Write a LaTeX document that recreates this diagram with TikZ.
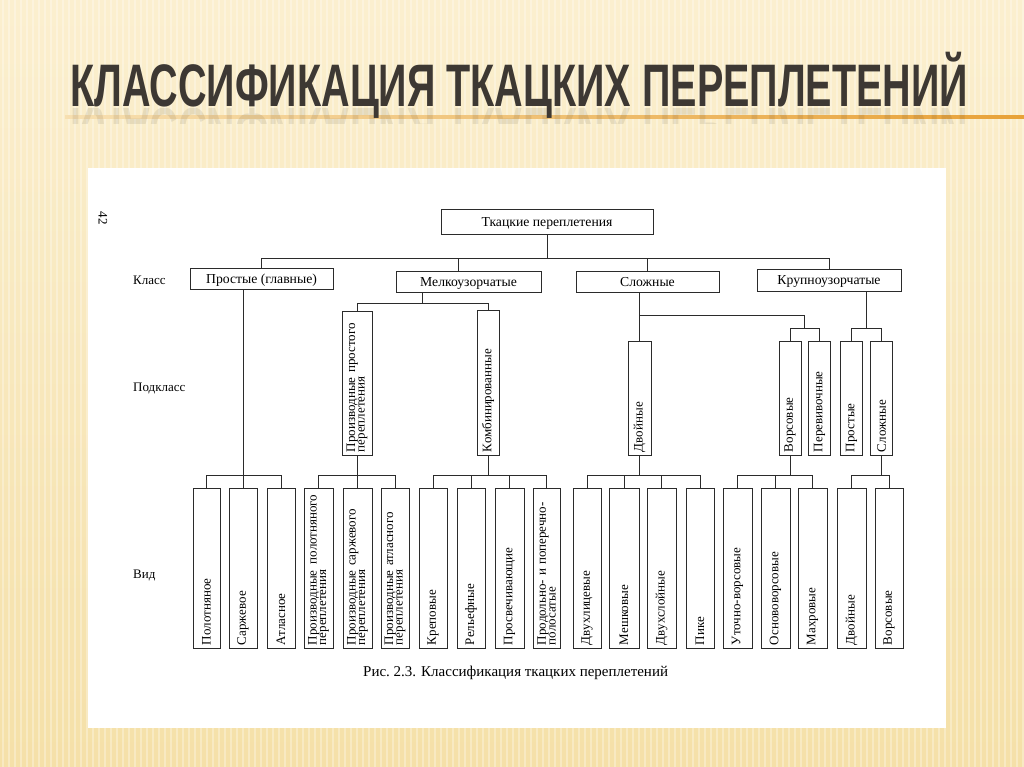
\documentclass[tikz,border=0pt]{standalone}
\usepackage{fontspec}
\usepackage{graphicx}
\setmainfont{Liberation Serif}
\newfontfamily\titlefont{Liberation Sans}
\usetikzlibrary{calc}
\definecolor{cream}{HTML}{FBEFCF}
\definecolor{sand}{HTML}{F5E0A8}
\definecolor{ink}{HTML}{2B2B2B}
\definecolor{slate}{HTML}{3D3833}
\definecolor{amber}{HTML}{E8A238}
\newcommand\slidetitle{\resizebox{898pt}{\height}{\titlefont\bfseries\fontsize{60}{60}\selectfont КЛАССИФИКАЦИЯ ТКАЦКИХ ПЕРЕПЛЕТЕНИЙ}}
\tikzset{head/.style={draw=ink,fill=white,line width=0.9pt,minimum width=143pt,minimum height=21pt,inner sep=0pt,text height=9.5pt,text depth=0pt,font=\fontsize{13.7}{15}\selectfont},
  sub/.style={draw=ink,fill=white,line width=0.9pt,rotate=90,minimum height=22pt,inner xsep=3pt,inner ysep=0pt,align=left,font=\fontsize{13}{9.6}\selectfont},
  kind/.style={sub,text width=154pt,minimum height=28pt},
  link/.style={draw=ink,line width=0.7pt},
  level/.style={anchor=west,inner sep=0pt,font=\fontsize{13}{14}\selectfont}}

\begin{document}
\begin{tikzpicture}[x=1pt,y=1pt]
\useasboundingbox (0,0) rectangle (1024,-767);
% slide
\shade[top color=cream,bottom color=sand] (0,0) rectangle (1024,-767);
\foreach \i in {3,9,...,1024} \draw[white,opacity=0.3,line width=2pt] (\i,0) -- (\i,-767);
\shade[left color=amber!20!cream,right color=amber] (65,-116) rectangle (1024,-118.8);
\node[anchor=base west,inner sep=0pt,text=slate] (title) at (70,-107) {\slidetitle};
\begin{scope}
\clip (60,-108.5) rectangle (980,-124);
\node[anchor=base west,inner sep=0pt,text=slate,opacity=0.1,yscale=-1] (mirror) at (70,-109) {\slidetitle};
\end{scope}
\fill[white] (88,-168) rectangle (946,-728);

% levels
\node[rotate=-90,font=\fontsize{13}{14}\selectfont] (page) at (103,-218) {42};
\node[level] (klass) at (133,-280) {Класс};
\node[level] (podkl) at (133,-388) {Подкласс};
\node[level] (vid) at (133,-575) {Вид};

% root and classes
\node[head,minimum width=212pt,minimum height=25pt] (root) at (547,-221.5) {Ткацкие переплетения};
\node[head] (prost) at (261.5,-278.5) {Простые (главные)};
\node[head,minimum width=145pt] (mel) at (468.5,-281.5) {Мелкоузорчатые};
\node[head] (slozh) at (647.5,-281.5) {Сложные};
\node[head,minimum width=144pt,minimum height=22pt] (krup) at (829,-280) {Крупноузорчатые};

% subclasses
\node[sub,text width=138pt,minimum height=30pt] (proizv) at (357,-383) {Производные простого\\переплетения};
\node[sub,text width=139pt] (komb) at (488,-382.5) {Комбинированные};
\node[sub,text width=108pt,minimum height=23pt] (dvoin) at (639.5,-398) {Двойные};
\node[sub,text width=108pt] (vors) at (790,-398) {Ворсовые};
\node[sub,text width=108pt] (perev) at (819.5,-398) {Перевивочные};
\node[sub,text width=108pt] (kprost) at (851.5,-398) {Простые};
\node[sub,text width=108pt] (kslozh) at (881.5,-398) {Сложные};

% kinds
\node[kind,minimum height=27pt] (polot) at (206.5,-568) {Полотняное};
\node[kind] (sarzh) at (243,-568) {Саржевое};
\node[kind] (atl) at (281,-568) {Атласное};
\node[kind,minimum height=29pt] (pv1) at (318.5,-568) {Производные\hspace{6pt}полотняного\\переплетения};
\node[kind,minimum height=29pt] (pv2) at (357.5,-568) {Производные саржевого\\переплетения};
\node[kind] (pv3) at (395,-568) {Производные атласного\\переплетения};
\node[kind] (krep) at (433,-568) {Креповые};
\node[kind] (relf) at (471,-568) {Рельефные};
\node[kind,minimum height=29pt] (prosv) at (509.5,-568) {Просвечивающие};
\node[kind,minimum height=27pt] (prod) at (546.5,-568) {Продольно-\hspace{4pt}и\hspace{4pt}поперечно-\\полосатые};
\node[kind] (dvl) at (587,-568) {Двухлицевые};
\node[kind,minimum height=30pt] (mesh) at (624,-568) {Мешковые};
\node[kind,minimum height=29pt] (dvsl) at (661.5,-568) {Двухслойные};
\node[kind] (pike) at (700,-568) {Пике};
\node[kind,minimum height=29pt] (utv) at (737.5,-568) {Уточно-ворсовые};
\node[kind,minimum height=29pt] (osn) at (775.5,-568) {Основоворсовые};
\node[kind,minimum height=29pt] (mahr) at (812.5,-568) {Махровые};
\node[kind,minimum height=29pt] (kdv) at (851.5,-568) {Двойные};
\node[kind] (kvor) at (889,-568) {Ворсовые};

% tree lines
\foreach \n/\dx in {prost/0,mel/-10,slozh/0,krup/0}
  \draw[link] (root.south) -- ++(0,-24) -| ([xshift=\dx pt]\n.north);
\draw[link] (sarzh.east) |- (prost.south);
\draw[link] (polot.east) -- ++(0,12) -| (atl.east);
\draw[link] (proizv.east) -- ++(0,7) -| (komb.east);
\draw[link] ($(proizv.east)!0.5!(komb.east)+(0,7)$) |- (mel.south);
\draw[link] (dvoin.east) |- (slozh.south);
\draw[link] (vors.east) -- ++(0,12) -| (perev.east);
\draw[link] ($(vors.east)!0.5!(perev.east)+(0,12)$) |- ($(dvoin.east)+(0,25)$);
\draw[link] (kprost.east) -- ++(0,12) -| (kslozh.east);
\draw[link] ($(kprost.east)!0.5!(kslozh.east)+(0,12)$) |- (krup.south);
\draw[link] (pv1.east) -- ++(0,12) -| (pv3.east);
\draw[link] (proizv.west) -- (proizv.west |- pv2.east);
\draw[link] (krep.east) -- ++(0,12) -| (prod.east);
\draw[link] (dvl.east) -- ++(0,12) -| (pike.east);
\draw[link] (utv.east) -- ++(0,12) -| (mahr.east);
\draw[link] (kdv.east) -- ++(0,12) -| (kvor.east);
\foreach \n in {relf,prosv,mesh,dvsl,osn} \draw[link] (\n.east) -- ++(0,12);
\foreach \n in {komb,dvoin,vors,kslozh} \draw[link] (\n.west) -- ++(0,-21);

\node[anchor=west,inner sep=0pt,font=\fontsize{15}{16}\selectfont] (caption) at (363,-673) {Рис.~2.3. Классификация ткацких переплетений};
\end{tikzpicture}
\end{document}
